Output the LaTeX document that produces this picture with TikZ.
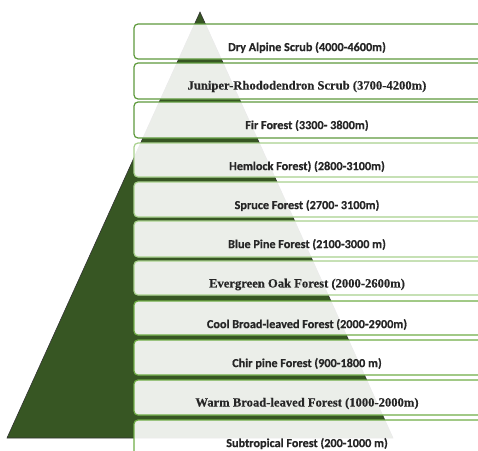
\documentclass[tikz,border=0pt]{standalone}
\usepackage{fontspec}
\setmainfont{Carlito}
\newfontfamily\calb{Carlito Bold}[FakeBold=0.6]
\newfontfamily\serifbold{Liberation Serif Bold}[FakeBold=0.4]
\definecolor{treegreen}{HTML}{375623}
\definecolor{edgeA}{HTML}{5E9A3C}
\definecolor{edgeB}{HTML}{A9D18E}
\definecolor{edgeC}{HTML}{70AD47}
\definecolor{ink}{HTML}{262626}
\tikzset{
  zone/.style={draw=#1, line width=1.2pt, rounded corners=4pt, fill=white, fill opacity=0.9, text opacity=1},
  lbl/.style={font=\calb\fontsize{12.2}{14}\selectfont, text=ink, anchor=center},
  slbl/.style={font=\serifbold\fontsize{12.6}{14}\selectfont, text=ink, anchor=center}
}
\begin{document}
\begin{tikzpicture}[x=1pt,y=-1pt]
\useasboundingbox (0,0) rectangle (478,450);
\begin{scope}
\clip (0,0) rectangle (478,450);
% mountain
\filldraw[fill=treegreen, draw=black!80, line width=0.6pt] (200,12) coordinate (apex) -- (393,438) coordinate (br) -- (7,438) coordinate (bl) -- cycle;
% zone boxes
\foreach \t/\b/\c [count=\i] in {24/59/edgeA, 63/99/edgeA, 102/138/edgeA, 143/177/edgeB, 182/217/edgeB, 221/257/edgeB, 261/295/edgeB, 301/335/edgeC, 340/375/edgeC, 380/415/edgeC, 420/470/edgeC}{
  \draw[zone=\c] (134,\t) rectangle (500,\b);
  \coordinate (z\i) at (307,\t+23.5);
}
\end{scope}
\node[lbl]  (n1)  at (z1)  {Dry Alpine Scrub (4000-4600m)};
\node[slbl] (n2)  at (z2)  {Juniper-Rhododendron Scrub (3700-4200m)};
\node[lbl]  (n3)  at (z3)  {Fir Forest (3300- 3800m)};
\node[lbl]  (n4)  at (z4)  {Hemlock Forest) (2800-3100m)};
\node[lbl]  (n5)  at (z5)  {Spruce Forest (2700- 3100m)};
\node[lbl]  (n6)  at (z6)  {Blue Pine Forest (2100-3000 m)};
\node[slbl] (n7)  at (z7)  {Evergreen Oak Forest (2000-2600m)};
\node[lbl]  (n8)  at (z8)  {Cool Broad-leaved Forest (2000-2900m)};
\node[lbl]  (n9)  at (z9)  {Chir pine Forest (900-1800 m)};
\node[slbl] (n10) at (z10) {Warm Broad-leaved Forest (1000-2000m)};
\node[lbl]  (n11) at (z11) {Subtropical Forest (200-1000 m)};
\end{tikzpicture}
\end{document}
